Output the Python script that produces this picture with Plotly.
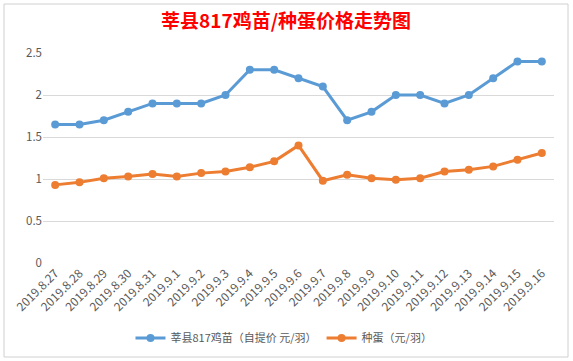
import plotly.graph_objects as go

dates = ["2019.8.27", "2019.8.28", "2019.8.29", "2019.8.30", "2019.8.31", "2019.9.1", "2019.9.2",
         "2019.9.3", "2019.9.4", "2019.9.5", "2019.9.6", "2019.9.7", "2019.9.8", "2019.9.9",
         "2019.9.10", "2019.9.11", "2019.9.12", "2019.9.13", "2019.9.14", "2019.9.15", "2019.9.16"]
chick_price = [1.65, 1.65, 1.7, 1.8, 1.9, 1.9, 1.9, 2.0, 2.3, 2.3, 2.2, 2.1, 1.7, 1.8, 2.0, 2.0, 1.9, 2.0, 2.2, 2.4, 2.4]
egg_price = [0.93, 0.96, 1.01, 1.03, 1.06, 1.03, 1.07, 1.09, 1.14, 1.21, 1.40, 0.98, 1.05, 1.01, 0.99, 1.01, 1.09, 1.11, 1.15, 1.23, 1.31]
series_names = ["莘县817鸡苗（自提价 元/羽）", "种蛋（元/羽）"]
y_ticks = [0, 0.5, 1, 1.5, 2, 2.5]
y_tick_labels = ["0", "0.5", "1", "1.5", "2", "2.5"]

fig = go.Figure()
fig.add_trace(go.Scatter(x=dates, y=chick_price, name=series_names[0], mode="lines+markers",
                         line=dict(color="#5B9BD5", width=3), marker=dict(size=8, color="#5B9BD5")))
fig.add_trace(go.Scatter(x=dates, y=egg_price, name=series_names[1], mode="lines+markers",
                         line=dict(color="#ED7D31", width=3), marker=dict(size=8, color="#ED7D31")))

font_family = "Noto Sans CJK SC, Noto Sans, sans-serif"
fig.update_layout(
    width=573, height=361,
    margin=dict(l=43, r=19, t=53, b=98, autoexpand=False),
    paper_bgcolor="white", plot_bgcolor="white",
    font=dict(family=font_family, color="#595959", size=11),
    title=dict(text="<b>莘县817鸡苗/种蛋价格走势图</b>", x=286 / 573, xanchor="center", xref="container",
               y=1 - 21.5 / 361, yanchor="middle", yref="container",
               font=dict(size=19, color="#FF0000", family=font_family)),
    showlegend=True,
    legend=dict(orientation="h", x=0.4716, xanchor="center", y=-0.357, yanchor="middle",
                font=dict(size=11, color="#595959"), itemwidth=30, tracegroupgap=0),
    xaxis=dict(type="category", range=[-0.5, 20.5], tickangle=-45, showgrid=False, showline=False,
               ticks="", automargin=False, tickfont=dict(size=12, color="#595959")),
    yaxis=dict(range=[0, 2.5], tickvals=y_ticks, ticktext=y_tick_labels, showgrid=True, gridcolor="#D9D9D9",
               gridwidth=1, zeroline=False, showline=False, ticks="", automargin=False,
               tickfont=dict(size=11.5, color="#595959")),
    shapes=[dict(type="rect", xref="paper", yref="paper", x0=-39 / 511, x1=(568 - 43) / 511,
                 y0=-(357 - 263) / 210, y1=(263 - 4) / 210, line=dict(color="#D0D0D0", width=1))],
)

fig.write_html("out.html", config={"displayModeBar": False},
               post_script="document.body.style.margin='0px';")
